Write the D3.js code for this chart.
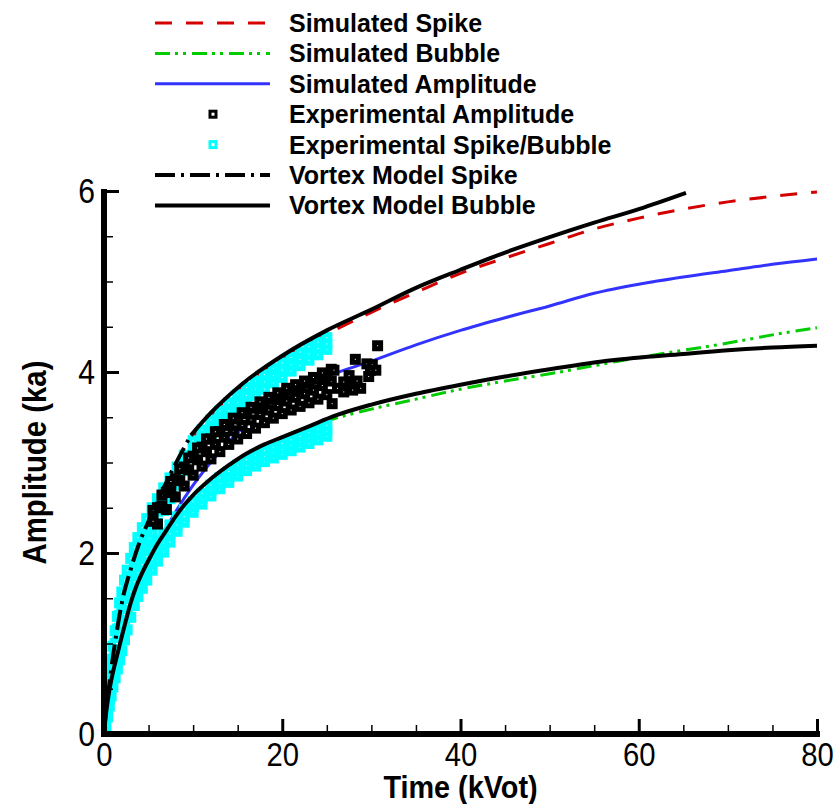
<!DOCTYPE html>
<html>
<head>
<meta charset="utf-8">
<script src="https://cdn.jsdelivr.net/npm/d3@7"></script>
<style>
  body { margin: 0; background: #fff; }
  text { font-family: "Liberation Sans", Arial, Helvetica, sans-serif; }
</style>
</head>
<body>
<div id="chart"></div>
<script>
// ---- data ----
var simSpikeT = [0, 0.5, 1, 2, 3, 4, 6, 8, 10, 12, 15, 20, 25, 30, 35, 40, 45, 50, 55, 60, 65, 70, 75, 80]
var simSpikeA = [0, 0.5, 0.83, 1.42, 1.8, 2.1, 2.55, 2.95, 3.28, 3.52, 3.8, 4.15, 4.42, 4.66, 4.88, 5.09, 5.26, 5.42, 5.58, 5.70, 5.80, 5.88, 5.94, 5.99]

var simBubbleT = [0, 0.5, 1, 2, 3, 4, 6, 8, 10, 13, 16, 20, 25, 30, 35, 40, 45, 50, 55, 60, 65, 70, 75, 80]
var simBubbleA = [0, 0.35, 0.6, 0.98, 1.3, 1.58, 1.98, 2.3, 2.55, 2.85, 3.08, 3.28, 3.46, 3.59, 3.70, 3.81, 3.90, 3.98, 4.07, 4.16, 4.24, 4.32, 4.41, 4.49]

var simAmpT = [0, 0.5, 1, 2, 3, 4, 6, 8, 10, 13, 16, 20, 25, 30, 35, 40, 45, 50, 55, 60, 65, 70, 75, 80]
var simAmpA = [0, 0.45, 0.7, 1.1, 1.45, 1.7, 2.1, 2.45, 2.75, 3.12, 3.42, 3.70, 3.95, 4.12, 4.30, 4.46, 4.60, 4.73, 4.87, 4.97, 5.05, 5.12, 5.19, 5.25]

var vortexSpikeT = [0, 0.3, 0.6, 1, 1.5, 2, 3, 4, 5, 6.6, 8, 9.75, 12, 15.4, 20, 25, 30, 35, 40, 45, 50, 55, 60, 65.3]
var vortexSpikeA = [0, 0.35, 0.55, 0.85, 1.17, 1.45, 1.82, 2.12, 2.35, 2.70, 2.98, 3.30, 3.55, 3.86, 4.18, 4.46, 4.69, 4.93, 5.13, 5.32, 5.49, 5.65, 5.80, 5.98]

var vortexBubbleT = [0, 0.2, 0.5, 1, 1.5, 2, 2.5, 3, 3.5, 4, 5, 6, 7, 8, 9, 10, 12, 14, 16, 18, 20, 23, 26, 30, 35, 40, 45, 50, 57, 65, 70, 75, 80]
var vortexBubbleA = [0, 0.2, 0.42, 0.68, 0.88, 1.08, 1.27, 1.45, 1.6, 1.72, 1.92, 2.1, 2.25, 2.4, 2.53, 2.64, 2.82, 2.97, 3.1, 3.2, 3.28, 3.40, 3.52, 3.64, 3.76, 3.86, 3.95, 4.03, 4.13, 4.20, 4.24, 4.27, 4.29]

// experimental spike / bubble (three rows of squares per band)
var expT = [0.2, 0.4, 0.6, 0.8, 1, 1.25, 1.5, 1.75, 2, 2.3, 2.6, 3, 3.4, 3.8, 4.3, 4.8, 5.4, 6, 6.7, 7.4, 8.2, 9, 10, 11, 12, 13, 14, 15, 16, 17, 18, 19, 20, 21, 22, 23, 24, 25]
var expSpike1 = [0.37, 0.54, 0.67, 0.82, 0.97, 1.14, 1.30, 1.45, 1.57, 1.70, 1.81, 1.94, 2.06, 2.17, 2.28, 2.38, 2.50, 2.60, 2.72, 2.83, 2.95, 3.08, 3.24, 3.36, 3.47, 3.57, 3.66, 3.75, 3.83, 3.90, 3.97, 4.04, 4.10, 4.16, 4.22, 4.28, 4.33, 4.38]
var expSpike2 = [0.23, 0.40, 0.53, 0.68, 0.83, 1.00, 1.16, 1.31, 1.43, 1.56, 1.67, 1.80, 1.92, 2.03, 2.14, 2.24, 2.36, 2.46, 2.59, 2.71, 2.85, 2.99, 3.15, 3.27, 3.38, 3.48, 3.57, 3.66, 3.74, 3.81, 3.89, 3.96, 4.02, 4.08, 4.14, 4.20, 4.26, 4.31]
var expSpike3 = [0.09, 0.26, 0.39, 0.54, 0.69, 0.86, 1.02, 1.17, 1.29, 1.42, 1.53, 1.66, 1.78, 1.89, 2.00, 2.10, 2.22, 2.33, 2.47, 2.60, 2.75, 2.91, 3.07, 3.19, 3.30, 3.40, 3.49, 3.58, 3.66, 3.74, 3.81, 3.88, 3.94, 4.01, 4.07, 4.13, 4.19, 4.25]
var expBubble1 = [0.32, 0.47, 0.59, 0.70, 0.80, 0.90, 1.00, 1.10, 1.20, 1.32, 1.43, 1.57, 1.68, 1.78, 1.87, 1.96, 2.05, 2.14, 2.22, 2.31, 2.40, 2.48, 2.57, 2.66, 2.75, 2.83, 2.90, 2.97, 3.03, 3.08, 3.13, 3.17, 3.21, 3.25, 3.29, 3.33, 3.37, 3.41]
var expBubble2 = [0.18, 0.33, 0.45, 0.56, 0.66, 0.76, 0.86, 0.96, 1.06, 1.18, 1.29, 1.43, 1.55, 1.65, 1.74, 1.83, 1.93, 2.02, 2.11, 2.21, 2.31, 2.40, 2.51, 2.60, 2.69, 2.77, 2.84, 2.91, 2.97, 3.02, 3.07, 3.11, 3.15, 3.19, 3.23, 3.27, 3.31, 3.35]
var expBubble3 = [0.04, 0.19, 0.31, 0.42, 0.52, 0.62, 0.72, 0.82, 0.92, 1.04, 1.15, 1.29, 1.42, 1.52, 1.61, 1.70, 1.81, 1.91, 2.01, 2.12, 2.24, 2.34, 2.45, 2.54, 2.63, 2.71, 2.78, 2.85, 2.91, 2.96, 3.01, 3.05, 3.09, 3.13, 3.17, 3.21, 3.25, 3.29]

// experimental amplitude (black squares)
var expAmpT1 = [5.5, 6.5, 7.5, 8.5, 9.5, 10.5, 11.5, 12.5, 13.5, 14.5, 15.5, 16.5, 17.5, 18.5, 19.5, 20.5, 21.5, 22.5, 23.5, 24.5, 25.5]
var expAmpHi = [2.47, 2.64, 2.79, 2.93, 3.05, 3.16, 3.26, 3.34, 3.42, 3.49, 3.55, 3.61, 3.67, 3.72, 3.77, 3.82, 3.86, 3.90, 3.94, 3.99, 4.03]
var expAmpMid = [2.35, 2.52, 2.67, 2.8, 2.92, 3.03, 3.12, 3.2, 3.28, 3.35, 3.41, 3.47, 3.53, 3.58, 3.63, 3.68, 3.72, 3.76, 3.8, 3.85, 3.9]
var expAmpT2 = [6, 7, 8, 9, 10, 11, 12, 13, 14, 15, 16, 17, 18, 19, 20, 21, 22, 23, 24, 25]
var expAmpLo = [2.32, 2.48, 2.62, 2.74, 2.86, 2.96, 3.04, 3.12, 3.20, 3.26, 3.32, 3.38, 3.44, 3.49, 3.54, 3.58, 3.62, 3.66, 3.70, 3.75]
var expAmpUp = [2.50, 2.67, 2.82, 2.95, 3.07, 3.17, 3.26, 3.34, 3.41, 3.48, 3.54, 3.60, 3.65, 3.70, 3.75, 3.80, 3.84, 3.88, 3.92, 3.96]
var expAmpT3 = [25.6, 25.8, 26.2, 26.9, 26.9, 27.5, 27.9, 27.9, 28.2, 28.4, 28.8, 29.5, 29.7, 29.9, 30.1, 30.5, 30.7]
var expAmpA3 = [3.65, 4.02, 3.82, 3.89, 3.78, 3.96, 3.88, 3.80, 4.14, 3.90, 3.82, 4.09, 3.95, 4.02, 4.08, 4.02, 4.29]

var xTicks = [0, 20, 40, 60, 80]
var yTicks = [0, 2, 4, 6]
var xMinor = [5, 10, 15, 25, 30, 35, 45, 50, 55, 65, 70, 75]
var yMinor = [0.5, 1, 1.5, 2.5, 3, 3.5, 4.5, 5, 5.5]

var legendNames = ["Simulated Spike", "Simulated Bubble", "Simulated Amplitude", "Experimental Amplitude",
                   "Experimental Spike/Bubble", "Vortex Model Spike", "Vortex Model Bubble"]

// ---- layout ----
var margin = {top: 191, right: 19, bottom: 70, left: 104},
    width = 836 - margin.left - margin.right,
    height = 804 - margin.top - margin.bottom;

var root = d3.select("#chart")
  .append("svg")
    .attr("width", 836)
    .attr("height", 804)
var svg = root.append("g")
    .attr("transform", "translate(" + margin.left + "," + margin.top + ")");

svg.append("clipPath").attr("id", "clip")
  .append("rect").attr("x", 0).attr("y", -4).attr("width", width + 4).attr("height", height + 4)

var x = d3.scaleLinear().domain([0, 80]).range([0, width])
var y = d3.scaleLinear().domain([0, 6]).range([height, 0])

function zip(ts, as) { return ts.map(function(t, i) { return [t, as[i]] }) }

var line = d3.line()
  .x(function(d) { return x(d[0]) })
  .y(function(d) { return y(d[1]) })
  .curve(d3.curveMonotoneX)

var plot = svg.append("g").attr("clip-path", "url(#clip)")

function drawLine(data, color, w, dash) {
  plot.append("path")
    .datum(data)
    .attr("d", line)
    .attr("fill", "none")
    .attr("stroke", color)
    .attr("stroke-width", w)
    .attr("stroke-dasharray", dash)
}

// squares: 11px outside, tiny white hole
function drawSquares(data, color) {
  plot.append("g").selectAll("rect")
    .data(data)
    .enter()
    .append("rect")
      .attr("x", function(d) { return x(d[0]) - 3 })
      .attr("y", function(d) { return y(d[1]) - 3 })
      .attr("width", 6)
      .attr("height", 6)
      .attr("fill", "#fff")
      .attr("stroke", color)
      .attr("stroke-width", 5)
}

var redDash = "17,14", greenDash = "15,5,3,5,3,6", vortexDash = "20,6,3,6"

// simulated curves
drawLine(zip(simSpikeT, simSpikeA), "#d40000", 3, redDash)
drawLine(zip(simBubbleT, simBubbleA), "#00cc00", 3, greenDash)
drawLine(zip(simAmpT, simAmpA), "#3333ff", 3, null)

// experimental spike / bubble
var expRows = [expSpike3, expSpike2, expSpike1, expBubble3, expBubble2, expBubble1]
expRows.forEach(function(row) { drawSquares(zip(expT, row), "#00ffff") })

// experimental amplitude
drawSquares(zip(expAmpT2, expAmpLo), "#000")
drawSquares(zip(expAmpT1, expAmpMid), "#000")
drawSquares(zip(expAmpT2, expAmpUp), "#000")
drawSquares(zip(expAmpT1, expAmpHi), "#000")
drawSquares(zip(expAmpT3, expAmpA3), "#000")

// vortex model (spike line is dash-dot near the origin, solid further out)
var vSpike = zip(vortexSpikeT, vortexSpikeA)
drawLine(vSpike.filter(function(d) { return d[0] <= 9.75 }), "#000", 4, vortexDash)
drawLine(vSpike.filter(function(d) { return d[0] >= 9.75 }), "#000", 4, null)
drawLine(zip(vortexBubbleT, vortexBubbleA), "#000", 4, null)

// ---- axes ----
function squash(sel, k) {
  sel.each(function() {
    var l = this.getComputedTextLength()
    d3.select(this).attr("textLength", l * k).attr("lengthAdjust", "spacingAndGlyphs")
  })
}

// minor ticks
svg.append("g")
  .attr("transform", "translate(0," + height + ")")
  .call(d3.axisBottom(x).tickValues(xMinor).tickSize(-9).tickSizeOuter(0).tickFormat(""))
  .call(function(g) { g.select(".domain").remove() })
  .selectAll("line").attr("stroke-width", 1.5)
svg.append("g")
  .call(d3.axisLeft(y).tickValues(yMinor).tickSize(-9).tickSizeOuter(0).tickFormat(""))
  .call(function(g) { g.select(".domain").remove() })
  .selectAll("line").attr("stroke-width", 1.5)

// major ticks + labels
var xAxis = svg.append("g")
  .attr("transform", "translate(0," + height + ")")
  .call(d3.axisBottom(x).tickValues(xTicks).tickSize(-15).tickSizeOuter(0).tickPadding(8).tickFormat(d3.format("d")))
xAxis.select(".domain").attr("stroke-width", 6).attr("d", "M-3,0H" + (width + 3))
xAxis.selectAll("line").attr("stroke-width", 3)
xAxis.selectAll("text").attr("font-size", "34px").attr("fill", "#000")
  .style("font-family", "'Liberation Sans', Arial, sans-serif")

var yAxis = svg.append("g")
  .call(d3.axisLeft(y).tickValues(yTicks).tickSize(-15).tickSizeOuter(0).tickPadding(9).tickFormat(d3.format("d")))
yAxis.select(".domain").attr("stroke-width", 6).attr("d", "M0,-2V" + (height + 3))
yAxis.selectAll("line").attr("stroke-width", 3)
yAxis.selectAll("text").attr("font-size", "35px").attr("fill", "#000")
  .style("font-family", "'Liberation Sans', Arial, sans-serif")

squash(xAxis.selectAll("text"), 0.86)
squash(yAxis.selectAll("text"), 0.86)

// axis titles
var xTitle = root.append("text")
  .attr("x", margin.left + width / 2)
  .attr("y", 798)
  .attr("text-anchor", "middle")
  .attr("font-size", "32px")
  .attr("font-weight", "bold")
  .text("Time (kVot)")
squash(xTitle, 0.9)

var yTitle = root.append("text")
  .attr("transform", "translate(46," + (margin.top + height / 2) + ")rotate(-90)")
  .attr("text-anchor", "middle")
  .attr("font-size", "33px")
  .attr("font-weight", "bold")
  .text("Amplitude (ka)")
squash(yTitle, 0.89)

// ---- legend ----
var legendStyles = [
  {type: "line", color: "#d40000", w: 3, dash: redDash},
  {type: "line", color: "#00cc00", w: 3, dash: greenDash},
  {type: "line", color: "#3333ff", w: 3, dash: null},
  {type: "square", color: "#000"},
  {type: "square", color: "#00ffff"},
  {type: "line", color: "#000", w: 4, dash: vortexDash},
  {type: "line", color: "#000", w: 4, dash: null}
]

var legend = root.append("g")
legendNames.forEach(function(name, i) {
  var ly = 23 + i * 30.4
  var st = legendStyles[i]
  if (st.type == "line") {
    legend.append("line")
      .attr("x1", 155).attr("x2", 270)
      .attr("y1", ly).attr("y2", ly)
      .attr("stroke", st.color)
      .attr("stroke-width", st.w)
      .attr("stroke-dasharray", st.dash)
  } else {
    legend.append("rect")
      .attr("x", 210).attr("y", ly - 3)
      .attr("width", 6).attr("height", 6)
      .attr("fill", "#fff")
      .attr("stroke", st.color)
      .attr("stroke-width", 3)
  }
  legend.append("text")
    .attr("x", 289)
    .attr("y", ly + 9)
    .attr("font-size", "25px")
    .attr("font-weight", "bold")
    .text(name)
})
</script>
</body>
</html>
